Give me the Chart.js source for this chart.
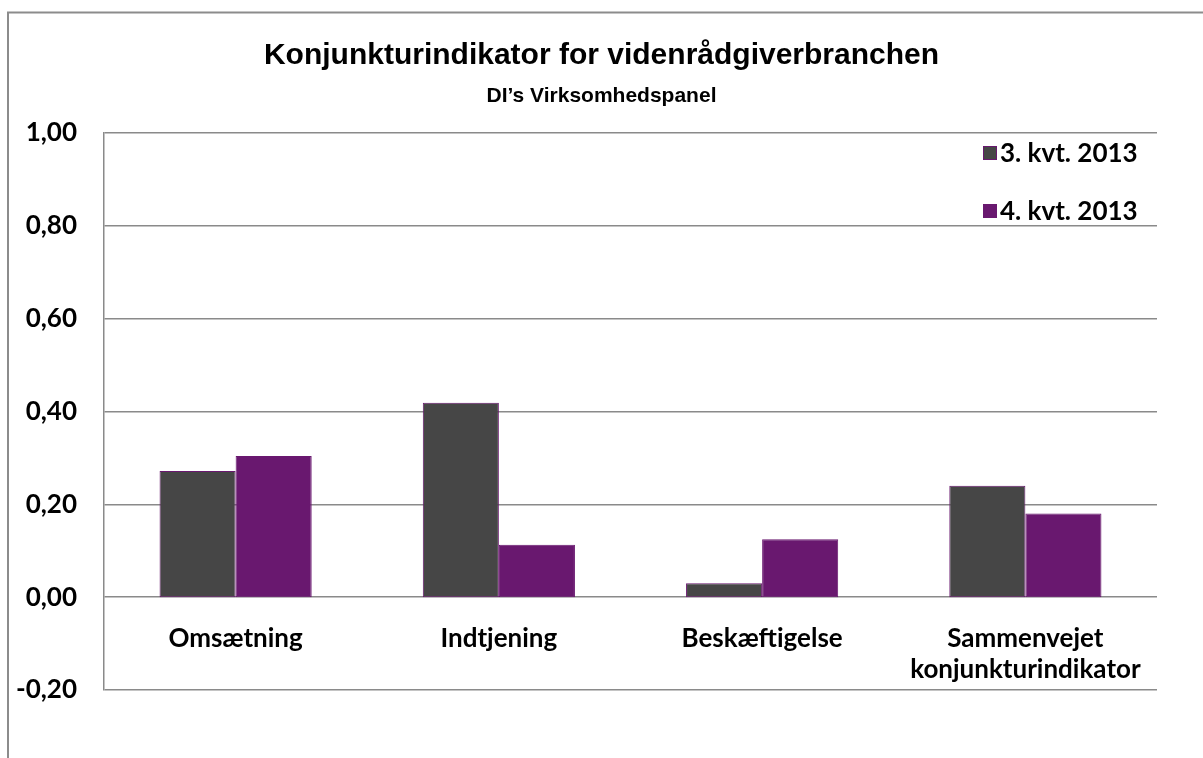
<!DOCTYPE html>
<html>
<head>
<meta charset="utf-8">
<script src="https://cdn.jsdelivr.net/npm/chart.js@4.4.1/dist/chart.umd.min.js"></script>
<style>
  html, body { margin: 0; padding: 0; background: #fff; }
  canvas { display: block; }
</style>
</head>
<body>
<canvas id="chart" width="1203" height="758"></canvas>
<script>
const titleText = 'Konjunkturindikator for videnrådgiverbranchen';
const subtitleText = 'DI\u2019s Virksomhedspanel';

const categories = ['Omsætning', 'Indtjening', 'Beskæftigelse', ['Sammenvejet', 'konjunkturindikator']];
const seriesNames = ['3. kvt. 2013', '4. kvt. 2013'];
const q3Values = [0.272, 0.419, 0.030, 0.240];
const q4Values = [0.304, 0.113, 0.125, 0.180];
const seriesColors = ['#464646', '#69186f'];

const labelFont = 'Lato';
const gridGray = '#8a8a8a';

// outer frame like the Excel chart border (only top + left are in view)
const framePlugin = {
  id: 'frame',
  beforeDraw(chart) {
    const ctx = chart.ctx;
    ctx.save();
    ctx.strokeStyle = '#8c8c8c';
    ctx.lineWidth = 2;
    ctx.beginPath();
    ctx.moveTo(8, chart.height);
    ctx.lineTo(8, 12.5);
    ctx.lineTo(chart.width, 12.5);
    ctx.stroke();
    ctx.restore();
  }
};

// titles centred on the whole canvas, not on the padded layout box
const titlePlugin = {
  id: 'centerTitles',
  afterDraw(chart) {
    const ctx = chart.ctx;
    const cx = chart.width / 2;
    ctx.save();
    ctx.fillStyle = '#000';
    ctx.textAlign = 'center';
    ctx.textBaseline = 'alphabetic';
    ctx.font = 'bold 30px "Liberation Sans"';
    ctx.fillText(titleText, cx, 64);
    ctx.font = 'bold 21px "Liberation Sans"';
    ctx.fillText(subtitleText, cx, 102);
    ctx.restore();
  }
};

// vertical legend in the top right corner of the plot
const cornerLegend = {
  id: 'cornerLegend',
  afterDraw(chart) {
    const ctx = chart.ctx;
    const area = chart.chartArea;
    ctx.save();
    ctx.font = `bold 26px ${labelFont}`;
    ctx.textBaseline = 'middle';
    ctx.textAlign = 'left';
    chart.data.datasets.forEach((ds, i) => {
      const y = area.top + 20 + i * 58;
      const x = area.right - 174;
      ctx.fillStyle = ds.backgroundColor;
      ctx.fillRect(x, y - 7, 14, 14);
      ctx.strokeStyle = '#69186f';
      ctx.lineWidth = 1;
      ctx.strokeRect(x + 0.5, y - 6.5, 13, 13);
      ctx.fillStyle = '#000';
      ctx.fillText(ds.label, x + 17, y + 1);
    });
    ctx.restore();
  }
};

function fmtTick(v) {
  const r = Math.round(v * 100) / 100;
  return (Math.abs(r) < 1e-9 ? 0 : r).toFixed(2).replace('.', ',');
}

new Chart(document.getElementById('chart'), {
  type: 'bar',
  data: {
    labels: categories,
    datasets: seriesNames.map((name, i) => ({
      label: name,
      data: i === 0 ? q3Values : q4Values,
      backgroundColor: seriesColors[i],
      borderColor: '#69186f',
      borderWidth: 1,
      borderSkipped: false,
      categoryPercentage: 0.578,
      barPercentage: 1.0
    }))
  },
  options: {
    responsive: false,
    animation: false,
    layout: { padding: { left: 0, right: 46, top: 133, bottom: 68 } },
    plugins: {
      legend: { display: false },
      tooltip: { enabled: false }
    },
    scales: {
      x: {
        position: { y: 0 },
        grid: { display: false },
        border: { display: false },
        ticks: {
          color: '#000',
          font: { family: labelFont, weight: 'bold', size: 26, lineHeight: 1.2 },
          padding: 18,
          maxRotation: 0,
          autoSkip: false
        }
      },
      y: {
        min: -0.2,
        max: 1.0,
        afterFit(scale) { scale.width = 104; },
        grid: { color: gridGray, lineWidth: 1.5, drawTicks: false },
        border: { display: true, color: gridGray, width: 1.5 },
        ticks: {
          stepSize: 0.2,
          color: '#000',
          padding: 27,
          font: { family: labelFont, weight: 'bold', size: 26 },
          callback: fmtTick
        }
      }
    }
  },
  plugins: [framePlugin, titlePlugin, cornerLegend]
});
</script>
</body>
</html>
